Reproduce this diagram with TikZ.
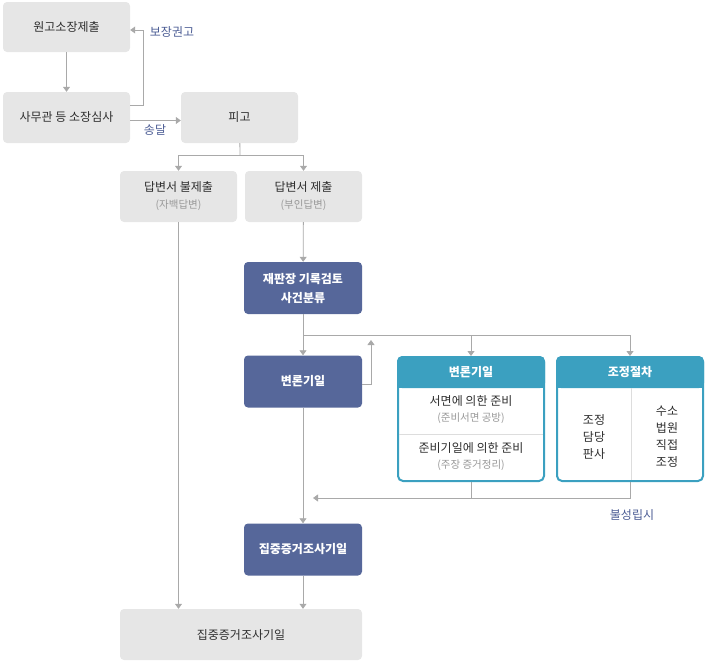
\documentclass[tikz,border=0pt]{standalone}
\usepackage{fontspec}
\setmainfont{Noto Sans CJK KR}
\usetikzlibrary{arrows.meta}
\definecolor{boxgray}{HTML}{E6E6E6}
\definecolor{navy}{HTML}{56679A}
\definecolor{teal}{HTML}{3BA0C0}
\definecolor{linegray}{HTML}{A9A9A9}
\definecolor{labelblue}{HTML}{4B5C94}
\definecolor{textdark}{HTML}{2E2E2E}
\definecolor{subgray}{HTML}{999999}
\definecolor{divgray}{HTML}{DDDDDD}
\newcommand{\subtxt}[1]{{\fontsize{10.5}{12}\selectfont\color{subgray}#1}}

\begin{document}
\begin{tikzpicture}[x=1pt,y=-1pt,
	graybox/.style={fill=boxgray, rounded corners=4pt, minimum width=117pt, minimum height=51pt, inner sep=0pt, text=textdark, align=center, font=\fontsize{12}{17}\selectfont},
	navybox/.style={fill=navy, rounded corners=4pt, minimum width=118pt, minimum height=52pt, inner sep=0pt, text=white, align=center, font=\fontsize{12}{19}\selectfont\bfseries},
	tealbox/.style={draw=teal, line width=2pt, fill=white, rounded corners=5pt, minimum width=146pt, minimum height=124pt, inner sep=0pt},
	lbl/.style={text=labelblue, font=\fontsize{12}{14}\selectfont},
	arr/.style={draw=linegray, line width=.8pt, -{Triangle[width=7pt,length=5pt]}},
	ln/.style={draw=linegray, line width=.8pt}]
	\useasboundingbox (0,0) rectangle (706,664);

	% draw gray boxes
	\node[graybox, minimum width=127pt, minimum height=50pt] (wongo) at (66.5,27) {원고소장제출};
	\node[graybox, minimum width=127pt] (simsa) at (66.5,117.5) {사무관 등 소장심사};
	\node[graybox] (pigo) at (239.5,117.5) {피고};
	\node[graybox] (nores) at (178.5,196.5) {답변서 불제출\\\subtxt{(자백답변)}};
	\node[graybox] (res) at (303.5,196.5) {답변서 제출\\\subtxt{(부인답변)}};
	\node[graybox, minimum width=242pt] (jipgray) at (241,634.5) {집중증거조사기일};

	% draw blue boxes
	\node[navybox] (review) at (303,288) {재판장 기록검토\\사건분류};
	\node[navybox] (byeon) at (303,381.5) {변론기일};
	\node[navybox] (jipblue) at (303,549.5) {집중증거조사기일};

	% draw teal boxes
	\node[tealbox] (dbox) at (471,419) {};
	\fill[teal, rounded corners=5pt] (dbox.north west) rectangle ([yshift=-32pt]dbox.north east);
	\fill[teal] ([yshift=-20pt]dbox.north west) rectangle ([yshift=-32pt]dbox.north east);
	\node[text=white, font=\fontsize{12}{14}\selectfont\bfseries] (dhead) at (471,372) {변론기일};
	\draw[divgray, line width=.8pt] (399,434) -- (543,434);
	\node[text=textdark, align=center, font=\fontsize{12}{16}\selectfont] (dprep1) at (471,410) {서면에 의한 준비\\\subtxt{(준비서면 공방)}};
	\node[text=textdark, align=center, font=\fontsize{12}{16}\selectfont] (dprep2) at (471,457) {준비기일에 의한 준비\\\subtxt{(주장 증거정리)}};

	\node[tealbox] (jbox) at (630,419) {};
	\fill[teal, rounded corners=5pt] (jbox.north west) rectangle ([yshift=-32pt]jbox.north east);
	\fill[teal] ([yshift=-20pt]jbox.north west) rectangle ([yshift=-32pt]jbox.north east);
	\node[text=white, font=\fontsize{12}{14}\selectfont\bfseries] (jhead) at (630,372) {조정절차};
	\draw[divgray, line width=.8pt] (631,388) -- (631,480);
	\node[text=textdark, align=center, font=\fontsize{12}{17}\selectfont] (jjudge) at (594,437) {조정\\담당\\판사};
	\node[text=textdark, align=center, font=\fontsize{12}{17}\selectfont] (jcourt) at (667,437) {수소\\법원\\직접\\조정};

	% draw connectors
	\draw[arr] (wongo) -- (simsa);
	\draw[arr] ([yshift=12pt]simsa.east) -| ([xshift=13pt,yshift=-3pt]wongo.east) -- ([yshift=-3pt]wongo.east);
	\node[lbl] (bojang) at (172,32) {보장권고};
	\draw[arr] ([yshift=-3pt]simsa.east) -- ([yshift=-3pt]pigo.west);
	\node[lbl] (songdal) at (155,130) {송달};

	\coordinate (psplit) at (240,155);
	\draw[ln] (pigo) -- (psplit);
	\draw[arr] (psplit) -| (nores.north);
	\draw[arr] (psplit) -| (res.north);
	\draw[arr] (nores.south) -- (nores.south |- jipgray.north);
	\draw[arr] (res) -- (review);

	\coordinate (rsplit) at (303,335);
	\draw[arr] (review) -- (byeon);
	\draw[ln] (rsplit) -- (rsplit -| jbox.north);
	\draw[arr] (rsplit -| dbox.north) -- (dbox.north);
	\draw[arr] (rsplit -| jbox.north) -- (jbox.north);
	\coordinate (loop) at (371,340);
	\draw[arr] ([yshift=-3pt]byeon.east) -| (loop);

	\draw[arr] (byeon) -- (jipblue);
	\coordinate (ret) at (313,498);
	\draw[ln] (dbox.south) -- (dbox.south |- ret);
	\draw[arr] (jbox.south) |- (ret);
	\node[lbl] (bulsung) at (632,515) {불성립시};
	\draw[arr] (jipblue.south) -- (jipblue.south |- jipgray.north);
\end{tikzpicture}
\end{document}
